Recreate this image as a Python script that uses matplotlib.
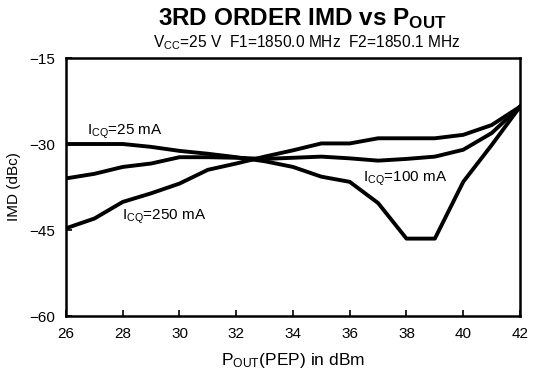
import matplotlib
matplotlib.use("Agg")
import matplotlib.pyplot as plt

plt.rcParams["font.family"] = ["Liberation Sans", "DejaVu Sans"]
plt.rcParams["mathtext.fontset"] = "custom"
plt.rcParams["mathtext.rm"] = "Liberation Sans"
plt.rcParams["mathtext.it"] = "Liberation Sans"
plt.rcParams["mathtext.bf"] = "Liberation Sans:bold"

# Output power (dBm)
pout = [26, 27, 28, 29, 30, 31, 32, 33, 34, 35, 36, 37, 38, 39, 40, 41, 42]

# Third-order IMD (dBc) for each quiescent collector current
imd_25ma = [-30.0, -30.0, -30.0, -30.5, -31.2, -31.7, -32.3, -33.0, -34.0,
            -35.7, -36.6, -40.3, -46.5, -46.5, -36.6, -30.2, -23.5]
imd_100ma = [-36.0, -35.2, -34.0, -33.4, -32.3, -32.3, -32.4, -32.6, -32.4,
             -32.2, -32.5, -32.9, -32.6, -32.2, -31.0, -28.1, -23.5]
imd_250ma = [-44.7, -43.0, -40.1, -38.6, -36.9, -34.5, -33.4, -32.2, -31.1,
             -29.9, -29.9, -29.0, -29.0, -29.0, -28.4, -26.7, -23.5]

x_ticks = [26, 28, 30, 32, 34, 36, 38, 40, 42]
y_ticks = [-60, -45, -30, -15]

fig = plt.figure(figsize=(5.37, 3.75), dpi=100)
ax = fig.add_axes([0.1229, 0.1573, 0.8454, 0.688])

for series in (imd_25ma, imd_100ma, imd_250ma):
    ax.plot(pout, series, color="black", linewidth=2.8, solid_joinstyle="round")

ax.set_xlim(26, 42)
ax.set_ylim(-60, -15)
ax.set_xticks(x_ticks)
ax.set_yticks(y_ticks)
ax.tick_params(direction="in", length=4, width=1.2, labelsize=11, pad=8)
for s in ax.spines.values():
    s.set_linewidth(1.8)

ax.text(26.74, -28.4, r"I$_{\rm CQ}$=25 mA", fontsize=11, ha="left", va="baseline")
ax.text(36.47, -36.5, r"I$_{\rm CQ}$=100 mA", fontsize=11, ha="left", va="baseline")
ax.text(27.97, -43.1, r"I$_{\rm CQ}$=250 mA", fontsize=11, ha="left", va="baseline")

ax.set_ylabel("IMD (dBc)", fontsize=11, labelpad=6)
ax.set_xlabel(r"P$_{\rm OUT}$(PEP) in dBm", fontsize=12.5, labelpad=7)

fig.text(0.562, 0.950, r"3RD ORDER IMD vs P$_{\mathbf{OUT}}$", fontsize=17.5,
         fontweight="bold", ha="center", va="center")
fig.text(0.572, 0.887, r"V$_{\rm CC}$=25 V  F1=1850.0 MHz  F2=1850.1 MHz",
         fontsize=11.2, ha="center", va="center")

fig.savefig("out.png", dpi=100)
